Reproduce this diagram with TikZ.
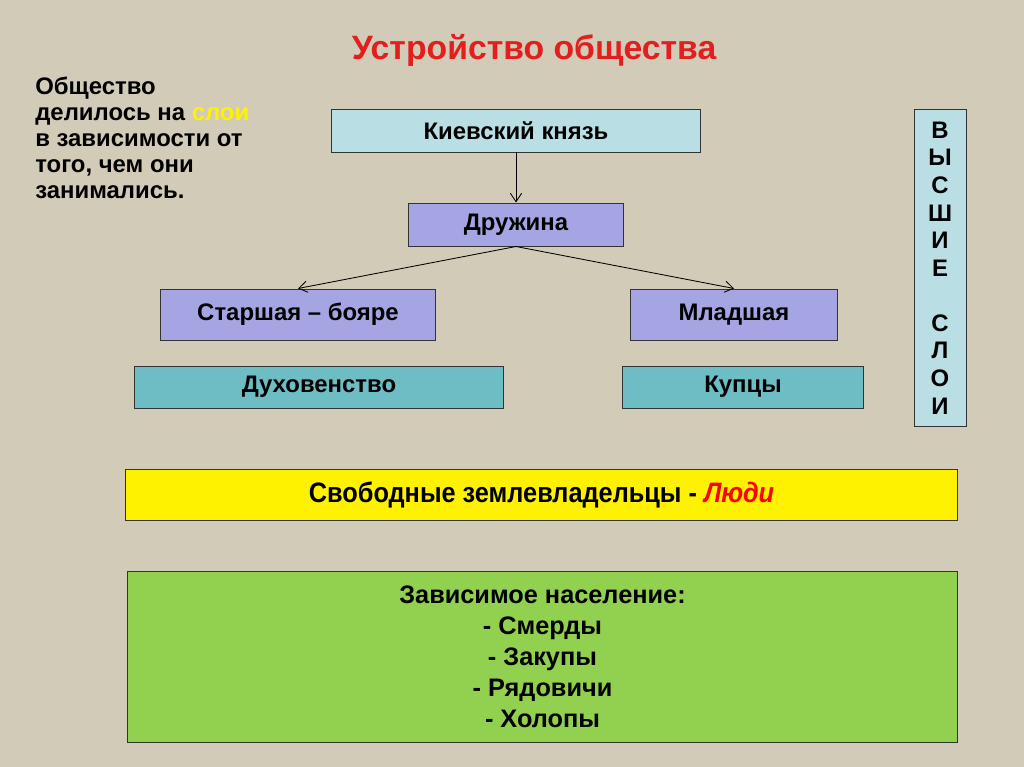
\documentclass[tikz,border=0pt]{standalone}
\usepackage{fontspec}
\setmainfont{Liberation Sans}
\usepackage{graphicx}
\usetikzlibrary{arrows.meta}
\definecolor{linen}{HTML}{D2CBB8}
\definecolor{paleblue}{HTML}{B9DFE5}
\definecolor{lavender}{HTML}{A5A5E3}
\definecolor{teal}{HTML}{6DBEC4}
\definecolor{grass}{HTML}{92D050}
\definecolor{titlered}{HTML}{E31E1E}
\begin{document}
\begin{tikzpicture}[x=0.025cm,y=-0.025cm,
	box/.style={draw=black!80,line width=0.7pt,inner sep=0pt,font=\fontsize{17}{20}\selectfont\bfseries},
	link/.style={-{Straight Barb[length=6pt,width=8pt]},line width=0.6pt}]
	\fill[linen] (0,0) rectangle (1024,767);
	\useasboundingbox (0,0) rectangle (1024,767);
	% title and note
	\node[text=titlered,font=\fontsize{24}{28}\selectfont\bfseries] (title) at (534,50) {Устройство общества};
	\node[anchor=north west,inner sep=0pt,align=left,font=\fontsize{17}{18.5}\selectfont\bfseries] (note) at (35,77)
		{Общество\\делилось на \textcolor{yellow}{слои}\\в зависимости от\\того, чем они\\занимались.};
	% upper layers
	\node[box,fill=paleblue,minimum width=9.2cm,minimum height=1.05cm] (knyaz) at (516,131) {Киевский князь};
	\node[box,fill=lavender,minimum width=5.35cm,minimum height=1.075cm] (druzhina) at (516,224.5) {Дружина};
	\node[box,fill=lavender,minimum width=6.85cm,minimum height=1.275cm] (starsh) at (298,314.5) {Старшая – бояре};
	\node[box,fill=lavender,minimum width=5.15cm,minimum height=1.275cm] (mladsh) at (734,314.5) {Младшая};
	\node[box,fill=teal,minimum width=9.2cm,minimum height=1.05cm] (duhov) at (319,387) {Духовенство};
	\node[box,fill=teal,minimum width=6cm,minimum height=1.05cm] (kupcy) at (743,387) {Купцы};
	\node[box,fill=paleblue,minimum width=1.3cm,minimum height=7.9cm,align=center,
		font=\fontsize{17}{19.6}\selectfont\bfseries] (vysshie) at (940,268)
		{В\\Ы\\С\\Ш\\И\\Е\\[19.6pt]С\\Л\\О\\И};
	\draw[link] (knyaz) -- (druzhina);
	\draw[link] (druzhina.south) -- (starsh.north);
	\draw[link] (druzhina.south) -- (mladsh.north);
	% lower layers
	\node[box,fill=yellow,minimum width=20.775cm,minimum height=1.275cm] (svobod) at (541.5,494.5)
		{\fontsize{20}{24}\selectfont\scalebox{0.9}[1]{Свободные землевладельцы - \textcolor{red}{\itshape Люди}}};
	\node[box,fill=grass,minimum width=20.725cm,minimum height=4.25cm,align=center,
		font=\fontsize{18}{22}\selectfont\bfseries] (zavis) at (542.5,657)
		{Зависимое население:\\- Смерды\\- Закупы\\- Рядовичи\\- Холопы};
\end{tikzpicture}
\end{document}
